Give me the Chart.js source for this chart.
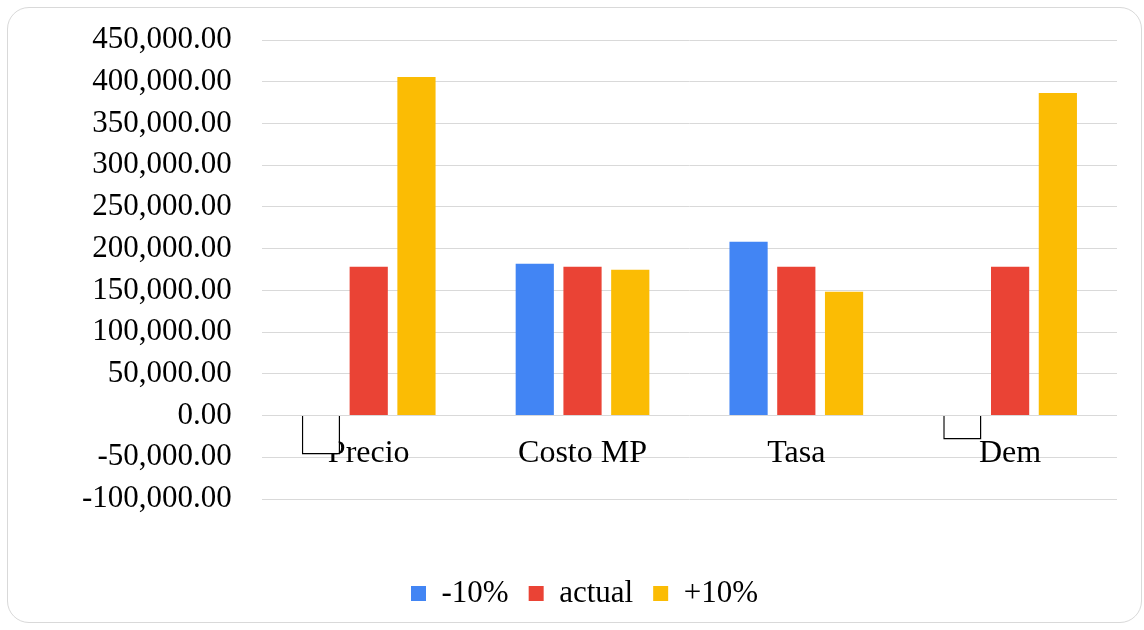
<!DOCTYPE html>
<html>
<head>
<meta charset="utf-8">
<script src="https://cdn.jsdelivr.net/npm/chart.js@4"></script>
<style>
  html, body { margin: 0; padding: 0; background: #fff; overflow: hidden; }
  #frame {
    position: absolute; left: 7px; top: 7px; width: 1133px; height: 614px;
    border: 1.5px solid #d9d9d9; border-radius: 22px;
  }
  #chart { position: absolute; left: 0; top: 0; }
</style>
</head>
<body>
<div id="frame"></div>
<canvas id="chart" width="1144" height="630"></canvas>
<script>
const categories = ['Precio', 'Costo MP', 'Tasa', 'Dem'];
const seriesNames = ['-10%', 'actual', '+10%'];
const minus10 = [-46700, 181900, 208200, -28700];
const actual = [178300, 178300, 178300, 178300];
const plus10 = [405700, 174700, 148400, 386500];
const yMin = -100000;
const yMax = 450000;
const yStep = 50000;

const serif = '"Liberation Serif", "Times New Roman", serif';
const colors = ['#4285f4', '#ea4335', '#fbbc04'];

// negative bars are drawn as white boxes with black outline
const negFill = (color) => ctx => (ctx.raw < 0 ? '#ffffff' : color);
const negBorder = ctx => (ctx.raw < 0 ? 1.5 : 0);

new Chart(document.getElementById('chart'), {
  type: 'bar',
  data: {
    labels: categories,
    datasets: [
      { label: seriesNames[0], data: minus10, backgroundColor: negFill(colors[0]), borderColor: '#000', borderWidth: negBorder },
      { label: seriesNames[1], data: actual, backgroundColor: colors[1] },
      { label: seriesNames[2], data: plus10, backgroundColor: colors[2] }
    ]
  },
  options: {
    responsive: false,
    animation: false,
    devicePixelRatio: 1,
    categoryPercentage: 0.67,
    barPercentage: 0.8,
    layout: { padding: { left: 52, right: 27, top: 40, bottom: 11 } },
    plugins: {
      tooltip: { enabled: false },
      legend: {
        position: 'bottom',
        labels: {
          boxWidth: 15,
          boxHeight: 15,
          padding: 20,
          color: '#000',
          font: { family: serif, size: 31 },
          generateLabels: chart => chart.data.datasets.map((ds, i) => ({
            text: ds.label,
            fillStyle: colors[i],
            strokeStyle: colors[i],
            lineWidth: 0,
            fontColor: '#000',
            datasetIndex: i
          }))
        }
      }
    },
    scales: {
      x: {
        position: { y: 0 },
        z: 1,
        grid: { display: false },
        border: { display: false },
        ticks: { color: '#000', padding: 11, font: { family: serif, size: 32 } }
      },
      gap: {
        axis: 'x',
        type: 'category',
        position: 'bottom',
        grid: { display: false },
        border: { display: false },
        ticks: { display: false },
        afterFit: s => { s.height = 59; }
      },
      y: {
        min: yMin,
        max: yMax,
        grid: { color: '#d9d9d9', lineWidth: 1, drawTicks: false },
        border: { display: false },
        ticks: {
          stepSize: yStep,
          padding: 30,
          color: '#000',
          font: { family: serif, size: 31, lineHeight: 0.58 },
          callback: v => v.toLocaleString('en-US', { minimumFractionDigits: 2, maximumFractionDigits: 2 })
        }
      }
    }
  }
});
</script>
</body>
</html>
